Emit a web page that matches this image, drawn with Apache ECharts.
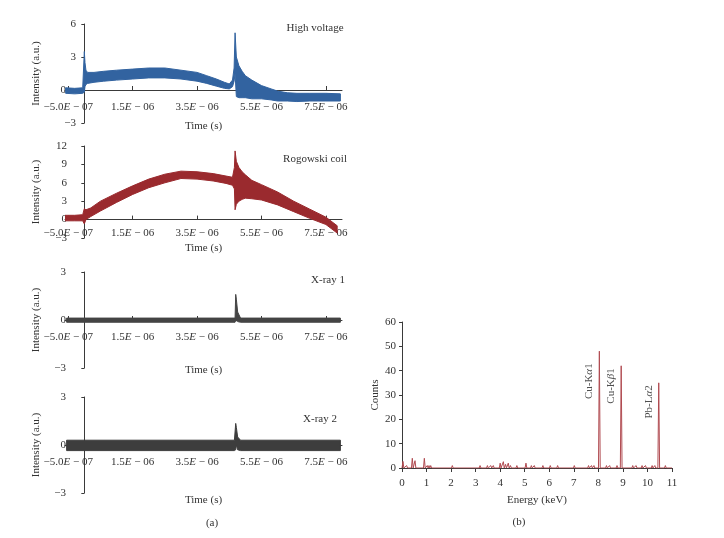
<!DOCTYPE html>
<html>
<head>
<meta charset="utf-8">
<style type="text/css">
    body {
        margin: 0;
        padding: 0;
        background: #fff;
    }
    #main {
        width: 724px;
        height: 538px;
    }
</style>
<script src="https://cdn.jsdelivr.net/npm/echarts@6/dist/echarts.min.js"></script>
</head>
<body>
<div id="main"></div>
<script type="text/javascript">
// time in microseconds, intensity envelopes (low / high edge of the noisy trace)
var hvTime = [-0.58, -0.3, -0.05, 0.0, 0.02, 0.05, 0.1, 0.3, 0.6, 1.0, 1.5, 2.0, 2.5, 3.0, 3.5, 3.8, 4.1, 4.35, 4.5, 4.6, 4.65, 4.68, 4.72, 4.8, 4.9, 5.0, 5.2, 5.5, 5.8, 6.0, 6.3, 6.6, 7.0, 7.5, 7.95];
var hvLow  = [-0.3, -0.35, -0.3, -0.2, 0.3, 0.5, 0.6, 0.7, 0.8, 0.9, 1.0, 1.1, 1.1, 1.0, 0.8, 0.6, 0.35, 0.15, 0.1, 0.3, 0.8, 1.5, -0.6, -0.7, -0.7, -0.7, -0.8, -0.8, -0.9, -1.0, -1.0, -1.05, -1.0, -1.0, -1.0];
var hvHigh = [0.2, 0.15, 0.2, 3.5, 2.5, 1.8, 1.6, 1.6, 1.7, 1.8, 1.9, 2.0, 2.0, 1.8, 1.6, 1.3, 1.0, 0.7, 0.55, 0.9, 2.0, 5.2, 3.0, 2.2, 1.7, 1.3, 0.9, 0.4, 0.1, -0.1, -0.25, -0.3, -0.3, -0.3, -0.35];

var rcTime = [-0.6, -0.3, -0.05, 0.0, 0.05, 0.2, 0.5, 1.0, 1.5, 2.0, 2.5, 3.0, 3.5, 4.0, 4.4, 4.6, 4.66, 4.68, 4.72, 4.8, 4.9, 5.0, 5.2, 5.5, 6.0, 6.5, 7.0, 7.5, 7.85];
var rcLow  = [-0.2, -0.2, -0.2, -0.7, 0.0, 0.5, 1.4, 2.8, 4.1, 5.2, 6.0, 6.7, 6.6, 6.3, 5.9, 5.6, 5.0, 1.6, 2.5, 3.0, 3.3, 3.5, 3.4, 3.2, 2.4, 1.3, 0.2, -0.8, -2.2];
var rcHigh = [0.7, 0.7, 0.8, 1.8, 1.6, 1.9, 3.0, 4.3, 5.5, 6.6, 7.4, 7.9, 7.8, 7.5, 7.1, 6.9, 8.5, 11.2, 9.5, 8.5, 7.8, 7.3, 6.4, 5.7, 4.5, 3.0, 1.7, 0.4, -1.0];

var x1Time = [-0.55, 4.68, 4.7, 4.72, 4.76, 4.85, 7.95];
var x1Low  = [-0.14, -0.14, -0.1, 0.0, -0.1, -0.14, -0.14];
var x1High = [0.12, 0.12, 1.6, 1.3, 0.5, 0.12, 0.12];

var x2Time = [-0.55, 4.66, 4.7, 4.72, 4.76, 4.85, 7.95];
var x2Low  = [-0.35, -0.35, -0.3, 0.0, -0.3, -0.35, -0.35];
var x2High = [0.3, 0.3, 1.35, 1.1, 0.5, 0.3, 0.3];

var timeTicks = [-0.5, 1.5, 3.5, 5.5, 7.5];

// EDX spectrum peaks (keV, counts)
var specEnergy = [0.04, 0.19, 0.42, 0.53, 0.91, 1.03, 1.1, 1.17, 2.05, 3.18, 3.48, 3.62, 3.72, 4.0, 4.13, 4.22, 4.33, 4.42, 4.68, 5.05, 5.27, 5.39, 5.74, 6.04, 6.34, 7.02, 7.6, 7.72, 7.82, 8.04, 8.33, 8.46, 8.76, 8.93, 9.4, 9.54, 9.78, 9.92, 10.19, 10.3, 10.46, 10.73];
var specCounts = [2.7, 1, 4, 3, 4, 1, 1, 1, 1, 1, 1, 1, 1, 2, 2.6, 1.5, 2, 1, 1, 2, 1, 1, 1, 1, 1, 1, 1, 1, 1, 48, 1, 1, 1, 42, 1, 1, 1, 1, 1, 1, 35, 1];
var peakNames = ['Cu-K{g|α}1', 'Cu-K{g|β}1', 'Pb-L{g|α}2'];
var peakEnergy = [8.04, 8.93, 10.46];
var peakCounts = [48, 42, 35];

var FONT = "'Liberation Serif', 'DejaVu Serif', serif";
var AXC = '#3a3a3a';
var TXT = '#333';

function timeLabel(v) {
    var s = (v * 1e-6).toExponential(1).split('e');
    var exp = Math.abs(parseInt(s[1], 10));
    return s[0].replace('-', '\u2212') + '{i|E} \u2212 ' + (exp < 10 ? '0' : '') + exp;
}

var grids = [
    { left: 65, top: 24, width: 277, height: 99 },
    { left: 65, top: 146, width: 277, height: 92 },
    { left: 65, top: 272, width: 277, height: 96 },
    { left: 65, top: 397, width: 277, height: 96 },
    { left: 402, top: 322, width: 270, height: 146 }
];
var yRanges = [[-3, 6], [-3, 12], [-3, 3], [-3, 3]];
// labels and names are placed from the grid edges, not from the zero lines
var xLabelMargins = [-21.5, -10.5, -36.5, -36.5];
var xNameGaps = [-2, 4.5, -3.5, 2];
var yLabelMargins = [-11, -2, -1, -1];
var zeroPads = [10, 0, 0, 0];

var xAxes = [], yAxes = [], series = [];
for (var i = 0; i < 4; i++) {
    xAxes.push({
        type: 'value', gridIndex: i, min: -0.6, max: 8.0,
        name: 'Time (s)', nameLocation: 'middle', nameGap: xNameGaps[i],
        nameTextStyle: { fontFamily: FONT, fontSize: 11, color: TXT },
        axisLine: { onZero: true, lineStyle: { color: AXC, width: 1 } },
        axisTick: { inside: true, length: 4, customValues: timeTicks, lineStyle: { color: AXC } },
        axisLabel: {
            customValues: timeTicks, margin: xLabelMargins[i], formatter: timeLabel,
            fontFamily: FONT, fontSize: 11, color: TXT,
            rich: { i: { fontStyle: 'italic', fontFamily: FONT, fontSize: 11, color: TXT } }
        },
        splitLine: { show: false }
    });
    yAxes.push({
        type: 'value', gridIndex: i, min: yRanges[i][0], max: yRanges[i][1], interval: 3,
        name: 'Intensity (a.u.)', nameLocation: 'middle', nameGap: 23,
        nameTextStyle: { fontFamily: FONT, fontSize: 11, color: TXT },
        axisLine: { onZero: true, lineStyle: { color: AXC, width: 1 } },
        axisTick: { length: 3, lineStyle: { color: AXC } },
        axisLabel: {
            margin: yLabelMargins[i], fontFamily: FONT, fontSize: 11, color: TXT,
            formatter: function (v) {
                return v === 0 ? '{z|0}' : String(v).replace('-', '\u2212');
            },
            rich: { z: { padding: [0, zeroPads[i], 0, 0], fontFamily: FONT, fontSize: 11, color: TXT } }
        },
        splitLine: { show: false }
    });
}

// noisy trace drawn as a filled band between its low and high envelope
function band(idx, t, lo, hi, color) {
    series.push({
        type: 'custom', xAxisIndex: idx, yAxisIndex: idx, silent: true, clip: true,
        data: t.map(function (x, k) { return [x, lo[k], hi[k]]; }),
        encode: { x: 0, y: [1, 2] },
        renderItem: function (params, api) {
            if (params.dataIndex !== 0) return null;
            var pts = [];
            for (var k = 0; k < t.length; k++) pts.push(api.coord([t[k], hi[k]]));
            for (var k = t.length - 1; k >= 0; k--) pts.push(api.coord([t[k], lo[k]]));
            return {
                type: 'polygon',
                shape: { points: pts },
                style: { fill: color, stroke: color, lineWidth: 1 }
            };
        }
    });
}
band(0, hvTime, hvLow, hvHigh, '#3263a0');
band(1, rcTime, rcLow, rcHigh, '#9a2a2e');
band(2, x1Time, x1Low, x1High, '#444444');
band(3, x2Time, x2Low, x2High, '#3d3d3d');

// spectrum axes
xAxes.push({
    type: 'value', gridIndex: 4, min: 0, max: 11, interval: 1,
    name: 'Energy (keV)', nameLocation: 'middle', nameGap: 27,
    nameTextStyle: { fontFamily: FONT, fontSize: 11, color: TXT },
    axisLine: { onZero: false, lineStyle: { color: AXC, width: 1 } },
    axisTick: { length: 4, lineStyle: { color: AXC } },
    axisLabel: { margin: 10, fontFamily: FONT, fontSize: 11, color: TXT },
    splitLine: { show: false }
});
yAxes.push({
    type: 'value', gridIndex: 4, min: 0, max: 60, interval: 10,
    name: 'Counts', nameLocation: 'middle', nameGap: 19,
    nameTextStyle: { fontFamily: FONT, fontSize: 11, color: TXT },
    axisLine: { show: true, onZero: false, lineStyle: { color: AXC, width: 1 } },
    axisTick: { show: true, length: 3, lineStyle: { color: AXC } },
    axisLabel: { margin: 6, fontFamily: FONT, fontSize: 11, color: TXT },
    splitLine: { show: false }
});

var spectrum = [[0, 0]];
specEnergy.forEach(function (e, k) {
    spectrum.push([e - 0.035, 0], [e, specCounts[k]], [e + 0.035, 0]);
});
spectrum.push([11, 0]);
series.push({
    type: 'line', xAxisIndex: 4, yAxisIndex: 4, data: spectrum,
    symbol: 'none', silent: true, lineStyle: { color: '#b04a50', width: 1 }
});

// peak labels, rotated, hanging down from just beside each peak
var topOffsets = [5, 1, 1];
series.push({
    type: 'scatter', xAxisIndex: 4, yAxisIndex: 4, symbolSize: 0, silent: true,
    data: peakEnergy.map(function (e, k) {
        return { value: [e - 0.4, peakCounts[k] - topOffsets[k]], name: peakNames[k] };
    }),
    label: {
        show: true, position: 'inside', rotate: 90, align: 'right', verticalAlign: 'middle',
        formatter: '{b}', fontFamily: FONT, fontSize: 11, color: '#222',
        rich: { g: { fontStyle: 'italic', fontFamily: FONT, fontSize: 11, color: '#222' } }
    }
});

function note(text, x, y) {
    return {
        type: 'text', x: x, y: y,
        style: { text: text, font: "11px 'Liberation Serif', serif", fill: TXT, textAlign: 'center', textVerticalAlign: 'middle' }
    };
}

var myChart = echarts.init(document.getElementById('main'));
myChart.setOption({
    animation: false,
    backgroundColor: '#fff',
    grid: grids,
    xAxis: xAxes,
    yAxis: yAxes,
    series: series,
    graphic: [
        note('High voltage', 315, 28),
        note('Rogowski coil', 315, 159),
        note('X-ray 1', 328, 280),
        note('X-ray 2', 320, 419),
        note('(a)', 212, 523),
        note('(b)', 519, 522)
    ]
});
</script>
</body>
</html>
